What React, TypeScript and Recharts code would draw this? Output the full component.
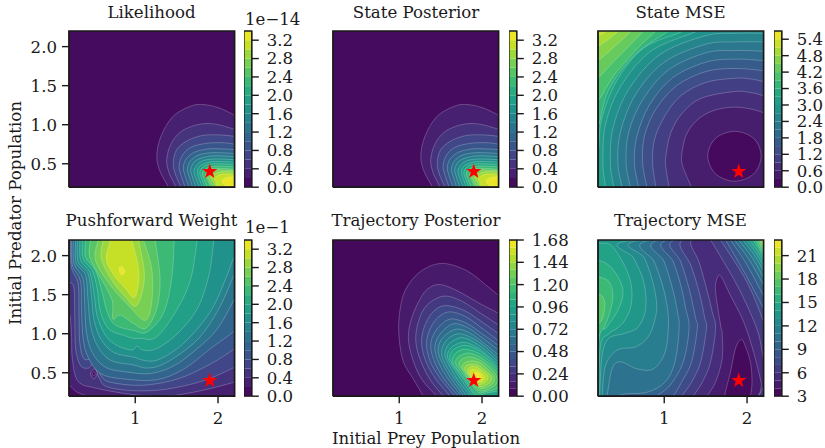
import React from "react";
import { ScatterChart, Scatter, XAxis, YAxis, ReferenceArea } from "recharts";

type Pt = [number, number];

const FONT = "'DejaVu Serif', serif";
const INK = "#1a1a1a";

const VIRIDIS = ["#440154", "#482475", "#414487", "#355f8d", "#2a788e", "#21918c", "#22a884", "#44bf70", "#7ad151", "#bddf26", "#fde725"];
function viridis(t: number): string {
  const p = Math.max(0, Math.min(0.9999, t)) * 10;
  const i = Math.floor(p);
  const f = p - i;
  const ch = (h: string, o: number) => parseInt(h.slice(o, o + 2), 16);
  const mix = (o: number) => Math.round(ch(VIRIDIS[i], o) * (1 - f) + ch(VIRIDIS[i + 1], o) * f);
  return `rgb(${mix(1)},${mix(3)},${mix(5)})`;
}

/* ---------- level lists and colour bar ticks ---------- */
const likelihoodBands = [0, 0.2, 0.4, 0.6, 0.8, 1, 1.2, 1.4, 1.6, 1.8, 2, 2.2, 2.4, 2.6, 2.8, 3, 3.2, 3.4];
const likelihoodTicks = [0, 0.4, 0.8, 1.2, 1.6, 2, 2.4, 2.8, 3.2];
const stateMseBands = [0, 0.3, 0.6, 0.9, 1.2, 1.5, 1.8, 2.1, 2.4, 2.7, 3, 3.3, 3.6, 3.9, 4.2, 4.5, 4.8, 5.1, 5.4, 5.7];
const stateMseTicks = [0, 0.6, 1.2, 1.8, 2.4, 3, 3.6, 4.2, 4.8, 5.4];
const trajPostBands = [0, 0.08, 0.16, 0.24, 0.32, 0.4, 0.48, 0.56, 0.64, 0.72, 0.8, 0.88, 0.96, 1.04, 1.12, 1.2, 1.28, 1.36, 1.44, 1.52, 1.6, 1.68];
const trajPostTicks = [0, 0.24, 0.48, 0.72, 0.96, 1.2, 1.44, 1.68];
const trajMseBands = [3, 4, 5, 6, 7, 8, 9, 10, 11, 12, 13, 14, 15, 16, 17, 18, 19, 20, 21, 22, 23];
const trajMseTicks = [3, 6, 9, 12, 15, 18, 21];

/* ---------- likelihood: region at or above each level ---------- */
const likelihoodContours: [number, Pt[]][] = [
  [0.2, [[1.42, 0.1], [1.4, 0.2], [1.3, 0.4], [1.26, 0.6], [1.31, 0.85], [1.45, 1.1], [1.65, 1.23], [1.8, 1.26], [2, 1.22], [2.2, 1.12], [2.3, 1.05], [2.3, 0.1]]],
  [0.4, [[1.5, 0.1], [1.49, 0.2], [1.41, 0.38], [1.38, 0.55], [1.43, 0.75], [1.55, 0.91], [1.75, 1], [1.95, 1.01], [2.2, 0.94], [2.3, 0.88], [2.3, 0.1]]],
  [0.6, [[1.56, 0.1], [1.55, 0.2], [1.48, 0.38], [1.46, 0.52], [1.5, 0.68], [1.62, 0.79], [1.8, 0.86], [2, 0.87], [2.2, 0.85], [2.3, 0.82], [2.3, 0.1]]],
  [0.8, [[1.61, 0.1], [1.6, 0.2], [1.55, 0.36], [1.53, 0.48], [1.57, 0.61], [1.67, 0.71], [1.85, 0.76], [2.05, 0.77], [2.2, 0.75], [2.3, 0.72], [2.3, 0.1]]],
  [1, [[1.66, 0.1], [1.65, 0.2], [1.6, 0.35], [1.58, 0.46], [1.62, 0.57], [1.72, 0.65], [1.88, 0.69], [2.05, 0.69], [2.2, 0.68], [2.3, 0.66], [2.3, 0.1]]],
  [1.2, [[1.7, 0.1], [1.69, 0.2], [1.65, 0.34], [1.63, 0.44], [1.67, 0.54], [1.76, 0.61], [1.9, 0.64], [2.05, 0.64], [2.2, 0.63], [2.3, 0.61], [2.3, 0.1]]],
  [1.4, [[1.74, 0.1], [1.73, 0.2], [1.69, 0.33], [1.67, 0.43], [1.71, 0.52], [1.79, 0.57], [1.92, 0.6], [2.05, 0.6], [2.2, 0.59], [2.3, 0.57], [2.3, 0.1]]],
  [1.6, [[1.78, 0.1], [1.77, 0.2], [1.73, 0.32], [1.71, 0.41], [1.75, 0.49], [1.82, 0.54], [1.94, 0.56], [2.05, 0.56], [2.2, 0.55], [2.3, 0.53], [2.3, 0.1]]],
  [1.8, [[1.82, 0.1], [1.81, 0.2], [1.77, 0.31], [1.75, 0.4], [1.78, 0.47], [1.85, 0.51], [1.96, 0.53], [2.2, 0.52], [2.3, 0.5], [2.3, 0.1]]],
  [2, [[1.85, 0.1], [1.84, 0.2], [1.8, 0.31], [1.78, 0.39], [1.81, 0.45], [1.88, 0.49], [1.98, 0.5], [2.2, 0.49], [2.3, 0.47], [2.3, 0.1]]],
  [2.2, [[1.88, 0.1], [1.87, 0.2], [1.83, 0.3], [1.81, 0.38], [1.84, 0.43], [1.91, 0.46], [2, 0.47], [2.2, 0.46], [2.3, 0.44], [2.3, 0.1]]],
  [2.4, [[1.92, 0.1], [1.91, 0.2], [1.87, 0.3], [1.85, 0.36], [1.88, 0.41], [1.94, 0.44], [2.03, 0.44], [2.2, 0.43], [2.3, 0.42], [2.3, 0.1]]],
  [2.6, [[1.96, 0.1], [1.94, 0.2], [1.89, 0.3], [1.87, 0.35], [1.91, 0.39], [1.97, 0.42], [2.05, 0.42], [2.2, 0.41], [2.3, 0.4], [2.3, 0.1]]],
  [2.8, [[1.99, 0.1], [1.98, 0.2], [1.93, 0.29], [1.91, 0.33], [1.95, 0.37], [2, 0.39], [2.08, 0.4], [2.2, 0.39], [2.3, 0.38], [2.3, 0.1]]],
  [3, [[2.03, 0.18], [1.97, 0.28], [1.95, 0.32], [2, 0.35], [2.06, 0.37], [2.2, 0.36], [2.3, 0.34], [2.3, 0.18]]],
  [3.2, [[2.1, 0.22], [2.05, 0.28], [2.08, 0.31], [2.15, 0.33], [2.3, 0.33], [2.3, 0.22]]],
];

/* ---------- pushforward weight: region at or above each level ---------- */
const pushforwardContours: [number, Pt[]][] = [
  [0.2, [[0.1, 2.3], [0.1, 0.36], [0.2, 0.34], [0.3, 0.25], [0.44, 0.19], [0.5, 0.1], [2.3, 0.1], [2.3, 2.3]]],
  [0.4, [[0.1, 2.3], [0.1, 1.25], [0.2, 1.27], [0.23, 1], [0.24, 0.68], [0.31, 0.39], [0.54, 0.3], [0.98, 0.22], [1.38, 0.2], [1.79, 0.27], [2.2, 0.38], [2.3, 0.42], [2.3, 2.3]]],
  [0.6, [[0.1, 2.3], [0.1, 1.65], [0.2, 1.66], [0.26, 1.58], [0.27, 1.19], [0.28, 0.81], [0.34, 0.59], [0.44, 0.56], [0.5, 0.61], [0.57, 0.42], [0.66, 0.32], [0.98, 0.27], [1.38, 0.29], [1.83, 0.4], [2.2, 0.57], [2.3, 0.63], [2.3, 2.3]]],
  [0.8, [[0.21, 2.3], [0.216, 2.2], [0.23, 1.85], [0.31, 1.64], [0.32, 1.26], [0.33, 0.89], [0.38, 0.68], [0.5, 0.66], [0.6, 0.44], [0.74, 0.37], [1.1, 0.34], [1.51, 0.42], [1.87, 0.59], [2.2, 0.81], [2.3, 0.95], [2.3, 2.3]]],
  [1, [[0.22, 2.3], [0.23, 2.2], [0.24, 1.88], [0.34, 1.67], [0.35, 1.32], [0.37, 0.94], [0.43, 0.7], [0.58, 0.49], [0.86, 0.42], [1.26, 0.41], [1.59, 0.55], [1.91, 0.81], [2.2, 1.04], [2.3, 1.2], [2.3, 2.3]]],
  [1.2, [[0.24, 2.3], [0.25, 2.2], [0.26, 1.9], [0.37, 1.7], [0.39, 1.36], [0.41, 1.02], [0.48, 0.76], [0.64, 0.57], [0.9, 0.51], [1.18, 0.49], [1.47, 0.59], [1.75, 0.81], [1.99, 1.06], [2.2, 1.45], [2.3, 1.7], [2.3, 2.3]]],
  [1.4, [[0.27, 2.3], [0.28, 2.2], [0.284, 1.91], [0.4, 1.75], [0.43, 1.43], [0.46, 1.11], [0.54, 0.85], [0.7, 0.66], [0.98, 0.6], [1.14, 0.56], [1.34, 0.61], [1.63, 0.81], [1.83, 1.02], [2.03, 1.36], [2.2, 1.77], [2.3, 2], [2.3, 2.3]]],
  [1.6, [[0.29, 2.3], [0.3, 2.2], [0.31, 1.92], [0.43, 1.77], [0.47, 1.49], [0.5, 1.19], [0.58, 0.94], [0.74, 0.76], [0.98, 0.7], [1.1, 0.66], [1.26, 0.66], [1.51, 0.81], [1.75, 1.06], [1.95, 1.36], [2.11, 1.75], [2.2, 2], [2.3, 2.2], [2.3, 2.3]]],
  [1.8, [[0.32, 2.3], [0.33, 2.2], [0.34, 1.94], [0.45, 1.79], [0.5, 1.53], [0.54, 1.23], [0.64, 0.98], [0.78, 0.85], [0.96, 0.79], [1.02, 0.84], [1.1, 0.79], [1.26, 0.81], [1.51, 1], [1.75, 1.32], [1.89, 1.75], [1.95, 2.2], [1.97, 2.3]]],
  [2, [[0.36, 2.3], [0.36, 2.2], [0.37, 1.96], [0.48, 1.81], [0.54, 1.58], [0.58, 1.28], [0.68, 1.06], [0.86, 0.98], [0.98, 0.94], [1.06, 0.94], [1.26, 0.96], [1.51, 1.32], [1.67, 1.7], [1.75, 2.2], [1.77, 2.3]]],
  [2.2, [[0.4, 2.3], [0.4, 2.2], [0.4, 1.98], [0.52, 1.81], [0.6, 1.53], [0.66, 1.28], [0.76, 1.11], [0.98, 1.04], [1.14, 1.02], [1.34, 1.26], [1.44, 1.7], [1.47, 2.2], [1.47, 2.3]]],
  [2.4, [[0.46, 2.3], [0.46, 2.2], [0.45, 1.98], [0.58, 1.72], [0.72, 1.43], [0.73, 1.19], [0.82, 1.24], [0.98, 1.13], [1.13, 1.07], [1.26, 1.32], [1.3, 1.7], [1.24, 2.2], [1.22, 2.3]]],
  [2.6, [[0.56, 2.3], [0.55, 2.2], [0.52, 1.94], [0.7, 1.62], [0.92, 1.36], [1.12, 1.17], [1.2, 1.41], [1.2, 1.83], [1.1, 2.2], [1.08, 2.3]]],
  [2.8, [[0.6, 2.3], [0.61, 2.2], [0.59, 1.96], [0.72, 1.68], [0.88, 1.47], [1, 1.35], [1.08, 1.51], [1.11, 1.79], [1.04, 2.2], [1.02, 2.3]]],
  [3, [[0.69, 2.3], [0.7, 2.2], [0.65, 1.96], [0.74, 1.75], [0.88, 1.58], [0.98, 1.46], [1.03, 1.58], [1.04, 1.83], [0.96, 2.2], [0.93, 2.3]]],
  [3.2, [[0.81, 1.85], [0.85, 1.85], [0.87, 1.79], [0.84, 1.75], [0.81, 1.79]]],
];
const pushforwardDip: [number, number, Pt[]][] = [
  [0.2, 0.4, [[0.5, 0.55], [0.54, 0.49], [0.5, 0.42], [0.46, 0.49]]],
  [0, 0.2, [[0.5, 0.51], [0.52, 0.49], [0.5, 0.46], [0.48, 0.49]]],
];

/* ---------- trajectory posterior: region at or above each level ---------- */
const trajPostContours: [number, Pt[]][] = [
  [0.08, [[1.33, 0.1], [1.29, 0.2], [1.17, 0.42], [1.05, 0.64], [1, 0.93], [1, 1.23], [1.07, 1.55], [1.25, 1.79], [1.51, 1.9], [1.81, 1.81], [2.05, 1.62], [2.2, 1.49], [2.3, 1.4], [2.3, 0.1]]],
  [0.16, [[1.5, 0.1], [1.45, 0.2], [1.27, 0.42], [1.16, 0.68], [1.11, 0.95], [1.15, 1.2], [1.24, 1.42], [1.34, 1.57], [1.49, 1.63], [1.7, 1.55], [1.95, 1.4], [2.2, 1.26], [2.3, 1.2], [2.3, 0.1]]],
  [0.24, [[1.58, 0.1], [1.53, 0.2], [1.38, 0.4], [1.26, 0.65], [1.2, 0.9], [1.23, 1.15], [1.33, 1.36], [1.53, 1.48], [1.75, 1.42], [2, 1.25], [2.2, 1.11], [2.3, 1.03], [2.3, 0.1]]],
  [0.32, [[1.65, 0.1], [1.61, 0.2], [1.44, 0.42], [1.32, 0.65], [1.27, 0.88], [1.3, 1.08], [1.4, 1.27], [1.55, 1.36], [1.78, 1.3], [2, 1.15], [2.2, 1], [2.3, 0.92], [2.3, 0.1]]],
  [0.4, [[1.71, 0.1], [1.67, 0.2], [1.5, 0.42], [1.38, 0.63], [1.33, 0.85], [1.36, 1.03], [1.45, 1.19], [1.6, 1.28], [1.8, 1.22], [2, 1.07], [2.2, 0.91], [2.3, 0.84], [2.3, 0.1]]],
  [0.48, [[1.75, 0.1], [1.71, 0.2], [1.54, 0.42], [1.43, 0.63], [1.38, 0.83], [1.41, 0.98], [1.5, 1.11], [1.63, 1.19], [1.82, 1.13], [2, 1], [2.2, 0.85], [2.3, 0.78], [2.3, 0.1]]],
  [0.56, [[1.79, 0.1], [1.75, 0.2], [1.59, 0.42], [1.48, 0.62], [1.43, 0.8], [1.46, 0.94], [1.55, 1.06], [1.67, 1.13], [1.84, 1.07], [2, 0.95], [2.2, 0.79], [2.3, 0.72], [2.3, 0.1]]],
  [0.64, [[1.82, 0.1], [1.78, 0.2], [1.63, 0.42], [1.52, 0.62], [1.47, 0.78], [1.5, 0.91], [1.58, 1], [1.7, 1.06], [1.85, 1.01], [2, 0.9], [2.2, 0.73], [2.3, 0.66], [2.3, 0.1]]],
  [0.72, [[1.85, 0.1], [1.81, 0.2], [1.67, 0.42], [1.56, 0.6], [1.51, 0.75], [1.54, 0.87], [1.62, 0.96], [1.73, 1], [1.87, 0.95], [2.02, 0.85], [2.2, 0.68], [2.3, 0.6], [2.3, 0.1]]],
  [0.8, [[1.88, 0.1], [1.85, 0.2], [1.7, 0.42], [1.6, 0.6], [1.55, 0.73], [1.58, 0.84], [1.65, 0.91], [1.76, 0.95], [1.89, 0.9], [2.03, 0.8], [2.2, 0.64], [2.3, 0.56], [2.3, 0.1]]],
  [0.88, [[1.91, 0.1], [1.88, 0.2], [1.74, 0.42], [1.63, 0.6], [1.58, 0.71], [1.61, 0.8], [1.68, 0.86], [1.78, 0.89], [1.9, 0.85], [2.03, 0.76], [2.2, 0.6], [2.3, 0.52], [2.3, 0.1]]],
  [0.96, [[1.94, 0.1], [1.91, 0.2], [1.77, 0.42], [1.66, 0.58], [1.61, 0.69], [1.64, 0.78], [1.71, 0.83], [1.8, 0.85], [1.92, 0.81], [2.05, 0.72], [2.2, 0.56], [2.3, 0.48], [2.3, 0.1]]],
  [1.04, [[1.93, 0.22], [1.79, 0.42], [1.68, 0.57], [1.64, 0.66], [1.67, 0.74], [1.74, 0.79], [1.82, 0.8], [1.94, 0.76], [2.07, 0.67], [2.2, 0.53], [2.3, 0.42], [2.3, 0.3], [2.2, 0.27], [2.05, 0.24]]],
  [1.12, [[1.95, 0.25], [1.82, 0.42], [1.72, 0.55], [1.68, 0.63], [1.71, 0.7], [1.78, 0.74], [1.85, 0.75], [1.96, 0.71], [2.08, 0.62], [2.2, 0.49], [2.24, 0.4], [2.18, 0.3], [2.05, 0.26]]],
  [1.2, [[1.97, 0.27], [1.85, 0.4], [1.76, 0.54], [1.72, 0.61], [1.75, 0.67], [1.82, 0.7], [1.88, 0.7], [1.98, 0.66], [2.08, 0.58], [2.17, 0.47], [2.18, 0.37], [2.1, 0.3]]],
  [1.28, [[1.98, 0.3], [1.87, 0.4], [1.79, 0.52], [1.76, 0.58], [1.79, 0.63], [1.85, 0.65], [1.9, 0.65], [1.99, 0.62], [2.07, 0.54], [2.14, 0.46], [2.14, 0.38], [2.07, 0.32]]],
  [1.36, [[1.98, 0.32], [1.89, 0.4], [1.82, 0.5], [1.79, 0.56], [1.82, 0.6], [1.88, 0.61], [1.95, 0.6], [2.04, 0.53], [2.11, 0.45], [2.1, 0.38], [2.04, 0.34]]],
  [1.44, [[1.96, 0.35], [1.88, 0.42], [1.83, 0.51], [1.85, 0.57], [1.92, 0.58], [2, 0.53], [2.07, 0.46], [2.05, 0.39]]],
  [1.52, [[1.95, 0.39], [1.87, 0.46], [1.86, 0.53], [1.92, 0.54], [2, 0.49], [2.03, 0.43], [2, 0.39]]],
  [1.6, [[1.95, 0.43], [1.91, 0.49], [1.95, 0.5], [1.99, 0.46], [1.98, 0.42]]],
];

/* ---------- state MSE: region at or below each level ---------- */
const stateMseContours: [number, Pt[]][] = [
  [5.1, [[0.1, 0.1], [0.1, 2.12], [0.2, 2.14], [0.3, 2.2], [0.35, 2.3], [2.35, 2.3], [2.35, 0.1]]],
  [4.8, [[0.1, 0.1], [0.1, 1.97], [0.2, 2], [0.45, 2.2], [0.52, 2.3], [2.35, 2.3], [2.35, 0.1]]],
  [4.5, [[0.1, 0.1], [0.1, 1.79], [0.2, 1.82], [0.4, 2], [0.6, 2.2], [0.66, 2.3], [2.35, 2.3], [2.35, 0.1]]],
  [4.2, [[0.1, 0.1], [0.1, 1.56], [0.2, 1.6], [0.4, 1.82], [0.75, 2.2], [0.82, 2.3], [2.35, 2.3], [2.35, 0.1]]],
  [3.9, [[0.1, 0.1], [0.1, 1.26], [0.2, 1.3], [0.4, 1.64], [0.7, 2], [0.9, 2.2], [0.98, 2.3], [2.35, 2.3], [2.35, 0.1]]],
  [3.6, [[0.1, 0.1], [0.1, 0.93], [0.2, 0.97], [0.33, 1.45], [0.65, 1.9], [1.05, 2.2], [1.12, 2.3], [2.35, 2.3], [2.35, 0.1]]],
  [3.3, [[0.1, 0.1], [0.1, 0.62], [0.2, 0.65], [0.24, 1.05], [0.42, 1.55], [0.75, 1.98], [1.23, 2.2], [1.3, 2.3], [2.35, 2.3], [2.35, 0.1]]],
  [3, [[0.29, 0.1], [0.29, 0.2], [0.26, 0.5], [0.29, 1], [0.48, 1.5], [0.85, 1.95], [1.4, 2.2], [1.5, 2.3], [2.35, 2.3], [2.35, 0.1]]],
  [2.7, [[0.39, 0.1], [0.39, 0.2], [0.35, 0.5], [0.38, 0.95], [0.57, 1.45], [0.95, 1.9], [1.5, 2.14], [1.85, 2.17], [2.2, 2.17], [2.35, 2.15], [2.35, 0.1]]],
  [2.4, [[0.49, 0.1], [0.49, 0.2], [0.44, 0.5], [0.47, 0.9], [0.65, 1.38], [1, 1.8], [1.5, 2.03], [1.85, 2.06], [2.2, 2.06], [2.35, 2.05], [2.35, 0.1]]],
  [2.1, [[0.59, 0.1], [0.59, 0.2], [0.54, 0.5], [0.57, 0.9], [0.74, 1.32], [1.05, 1.7], [1.5, 1.92], [1.85, 1.95], [2.2, 1.94], [2.35, 1.92], [2.35, 0.1]]],
  [1.8, [[0.69, 0.1], [0.69, 0.2], [0.64, 0.5], [0.67, 0.85], [0.82, 1.25], [1.1, 1.6], [1.5, 1.8], [1.85, 1.84], [2.2, 1.82], [2.35, 1.8], [2.35, 0.1]]],
  [1.5, [[0.79, 0.1], [0.79, 0.2], [0.74, 0.5], [0.76, 0.85], [0.9, 1.2], [1.15, 1.5], [1.5, 1.68], [1.85, 1.72], [2.2, 1.69], [2.35, 1.65], [2.35, 0.1]]],
  [1.2, [[0.92, 0.1], [0.9, 0.2], [0.86, 0.5], [0.88, 0.8], [1, 1.1], [1.2, 1.37], [1.5, 1.54], [1.85, 1.595], [2.05, 1.585], [2.2, 1.55], [2.35, 1.5], [2.35, 0.1]]],
  [0.9, [[1.09, 0.1], [1.06, 0.2], [1.02, 0.45], [1.02, 0.6], [1.08, 0.9], [1.22, 1.15], [1.45, 1.34], [1.85, 1.425], [2.05, 1.41], [2.2, 1.37], [2.35, 1.3], [2.35, 0.1]]],
  [0.6, [[1.38, 0.1], [1.33, 0.2], [1.23, 0.45], [1.21, 0.6], [1.27, 0.88], [1.42, 1.08], [1.62, 1.19], [1.85, 1.225], [2.05, 1.2], [2.2, 1.15], [2.35, 1.05], [2.35, 0.1]]],
  [0.3, [[2.17, 0.6], [2.08, 0.825], [1.85, 0.915], [1.62, 0.825], [1.525, 0.6], [1.62, 0.37], [1.85, 0.277], [2.08, 0.37]]],
];

/* ---------- trajectory MSE: boundaries of the region at or below each level ---------- */
const mseRightEdges: Record<number, Pt[]> = {
  6: [[1.5, 2.3], [1.56, 2.2], [1.88, 1.62], [2.12, 1.06], [2.2, 0.68], [2.28, 0.5], [2.2, 0.32], [2.14, 0.2], [2.1, 0.1]],
  7: [[1.62, 2.3], [1.68, 2.2], [2, 1.66], [2.2, 1.15], [2.33, 0.7], [2.3, 0.25], [2.18, 0.2], [2.15, 0.1]],
  8: [[1.68, 2.3], [1.74, 2.2], [1.97, 1.78], [2.2, 1.32], [2.3, 1.1], [2.35, 0.1]],
  9: [[1.74, 2.3], [1.8, 2.2], [2, 1.88], [2.2, 1.48], [2.3, 1.25], [2.35, 0.1]],
  10: [[1.8, 2.3], [1.85, 2.2], [2.03, 1.94], [2.2, 1.62], [2.3, 1.42], [2.35, 0.1]],
  11: [[1.86, 2.3], [1.9, 2.2], [2.06, 1.98], [2.2, 1.72], [2.3, 1.55], [2.35, 0.1]],
  12: [[1.92, 2.3], [1.95, 2.2], [2.08, 2.02], [2.2, 1.81], [2.3, 1.65], [2.35, 0.1]],
  13: [[1.96, 2.3], [1.99, 2.2], [2.1, 2.05], [2.2, 1.87], [2.3, 1.72], [2.35, 0.1]],
  14: [[2, 2.3], [2.03, 2.2], [2.12, 2.07], [2.2, 1.93], [2.3, 1.8], [2.35, 0.1]],
  15: [[2.04, 2.3], [2.07, 2.2], [2.14, 2.09], [2.2, 1.98], [2.3, 1.85], [2.35, 0.1]],
  16: [[2.07, 2.3], [2.1, 2.2], [2.2, 2.02], [2.3, 1.88], [2.35, 0.1]],
  17: [[2.11, 2.3], [2.13, 2.2], [2.2, 2.05], [2.3, 1.92], [2.35, 0.1]],
  18: [[2.13, 2.3], [2.15, 2.2], [2.2, 2.09], [2.3, 1.98], [2.35, 0.1]],
  19: [[2.15, 2.3], [2.17, 2.2], [2.2, 2.13], [2.3, 2.03], [2.35, 0.1]],
  20: [[2.16, 2.3], [2.18, 2.2], [2.2, 2.17], [2.3, 2.08], [2.35, 0.1]],
};
const mseLeftEdges: Record<number, Pt[]> = {
  6: [[1.28, 0.1], [1.35, 0.2], [1.46, 0.38], [1.56, 0.64], [1.62, 1.07], [1.58, 1.28], [1.52, 1.54], [1.42, 1.92], [1.32, 2.18]],
  7: [[1.14, 0.1], [1.21, 0.2], [1.33, 0.38], [1.44, 0.64], [1.51, 1.07], [1.49, 1.2], [1.42, 1.54], [1.32, 1.88], [1.2, 2.18]],
  8: [[1.04, 0.1], [1.11, 0.2], [1.21, 0.38], [1.33, 0.64], [1.4, 1.07], [1.38, 1.2], [1.3, 1.58], [1.2, 1.92], [1.09, 2.18]],
  9: [[0.84, 0.1], [0.91, 0.2], [1.07, 0.34], [1.23, 0.64], [1.3, 1.07], [1.26, 1.32], [1.2, 1.62], [1.11, 1.92], [0.99, 2.18]],
  10: [[0.42, 0.1], [0.49, 0.22], [0.79, 0.25], [1.01, 0.38], [1.13, 0.64], [1.18, 1.07], [1.16, 1.28], [1.1, 1.58], [1, 1.92], [0.88, 2.18]],
  11: [[0.3, 0.1], [0.31, 0.2], [0.37, 0.55], [0.47, 0.64], [0.67, 0.55], [0.87, 0.55], [1.01, 0.76], [1.05, 1.07], [1.04, 1.32], [0.98, 1.62], [0.88, 1.92], [0.76, 2.18]],
  12: [[0.24, 0.1], [0.25, 0.2], [0.29, 0.59], [0.43, 0.79], [0.65, 0.83], [0.8, 0.95], [0.88, 1.15], [0.91, 1.37], [0.86, 1.67], [0.76, 1.97], [0.63, 2.18]],
  13: [[0.22, 0.1], [0.22, 0.2], [0.25, 0.72], [0.33, 0.94], [0.51, 1], [0.67, 1.07], [0.76, 1.24], [0.78, 1.45], [0.74, 1.71], [0.63, 1.97], [0.51, 2.18]],
  14: [[0.21, 0.1], [0.21, 0.2], [0.23, 0.85], [0.33, 1], [0.43, 1.07], [0.51, 1.15], [0.59, 1.32], [0.61, 1.54], [0.57, 1.75], [0.47, 1.97], [0.35, 2.14], [0.21, 2.16], [0.1, 2.16], [0.1, 2.3]],
  15: [[0.205, 0.1], [0.205, 0.2], [0.215, 0.94], [0.31, 1.09], [0.43, 1.28], [0.5, 1.49], [0.47, 1.67], [0.35, 1.86], [0.21, 1.94], [0.1, 1.97], [0.1, 2.3]],
  16: [[0.1, 0.1], [0.1, 0.95], [0.21, 0.97], [0.28, 1.09], [0.35, 1.3], [0.38, 1.5], [0.33, 1.67], [0.21, 1.73], [0.1, 1.78], [0.1, 2.3]],
  17: [[0.1, 0.1], [0.1, 1.1], [0.23, 1.15], [0.28, 1.32], [0.27, 1.45], [0.21, 1.51], [0.1, 1.56], [0.1, 2.3]],
  18: [[0.1, 0.1], [0.1, 2.3]],
  19: [[0.1, 0.1], [0.1, 2.3]],
  20: [[0.1, 0.1], [0.1, 2.3]],
};
const mseLobe5: Pt[] = [[1.52, 0.2], [1.62, 0.38], [1.7, 0.68], [1.7, 1], [1.68, 1.11], [1.62, 1.54], [1.63, 1.68], [1.66, 1.75], [1.7, 1.71], [1.8, 1.49], [1.96, 1.15], [2.08, 0.76], [2.16, 0.42], [2.17, 0.32], [2.12, 0.2], [1.9, 0.1], [1.5, 0.1]];
const mseLobe4: Pt[] = [[1.73, 0.2], [1.8, 0.51], [1.86, 0.81], [1.92, 0.92], [1.96, 0.89], [2.04, 0.64], [2.06, 0.38], [2.04, 0.2], [2, 0.1], [1.75, 0.1]];
const mseLevelsDown = [20, 19, 18, 17, 16, 15, 14, 13, 12, 11, 10, 9, 8, 7, 6];

const truth = [{ x: 1.9, y: 0.4 }];
const whole: Pt[] = [[0.1, 0.1], [0.1, 2.3], [2.3, 2.3], [2.3, 0.1]];
const frameCorners = [{ x: 0.2, y: 0.2 }, { x: 0.2, y: 2.2 }, { x: 2.2, y: 2.2 }, { x: 2.2, y: 0.2 }, { x: 0.2, y: 0.2 }];

/* ---------- building layers ---------- */
type Layer = { lo: number; hi: number; pts: Pt[]; line: boolean };
function upLayers(bands: number[], contours: [number, Pt[]][]): Layer[] {
  const step = bands[1] - bands[0];
  const out: Layer[] = [{ lo: bands[0], hi: bands[1], pts: whole, line: false }];
  contours.forEach(([lv, pts]) => out.push({ lo: lv, hi: lv + step, pts, line: true }));
  return out;
}
function downLayers(baseLo: number, baseHi: number, step: number, contours: [number, Pt[]][]): Layer[] {
  const out: Layer[] = [{ lo: baseLo, hi: baseHi, pts: whole, line: false }];
  contours.forEach(([lv, pts]) => out.push({ lo: lv - step, hi: lv, pts, line: true }));
  return out;
}
const mseContours: [number, Pt[]][] = [
  ...mseLevelsDown.map((lv): [number, Pt[]] => [lv, [...mseLeftEdges[lv], ...mseRightEdges[lv]]]),
  [5, mseLobe5],
  [4, mseLobe4],
];
const pushLayers: Layer[] = [
  ...upLayers(likelihoodBands, pushforwardContours),
  ...pushforwardDip.map(([lo, hi, pts]) => ({ lo, hi, pts, line: true })),
];

function smoothClosed(p: { x: number; y: number }[]): string {
  const n = p.length;
  let d = `M${p[0].x},${p[0].y}`;
  for (let i = 0; i < n; i++) {
    const a = p[(i - 1 + n) % n], b = p[i], c = p[(i + 1) % n], e = p[(i + 2) % n];
    d += `C${b.x + (c.x - a.x) / 6},${b.y + (c.y - a.y) / 6} ${c.x - (e.x - b.x) / 6},${c.y - (e.y - b.y) / 6} ${c.x},${c.y}`;
  }
  return d + "Z";
}

const AX_W = 60;
const AX_H = 38;
const TOP = 4;
const FS = 16.6;
const tickStyle = { fontFamily: FONT, fontSize: FS, fill: INK };

function Panel(props: { left: number; top: number; w: number; h: number; bands: number[]; layers: Layer[]; xLabels: boolean; yLabels: boolean }) {
  const { left, top, w, h, bands, layers, xLabels, yLabels } = props;
  const lo = bands[0], hi = bands[bands.length - 1];
  const tickLine = { stroke: INK, strokeWidth: 1.4 };
  const size = { width: AX_W + w + 4, height: TOP + h + AX_H };
  const abs = { position: "absolute" as const, left: 0, top: 0 };
  return (
    <div style={{ position: "absolute", left: left - AX_W, top: top - TOP }}>
      <div style={abs}>
        <ScatterChart {...size} margin={{ top: TOP, right: 4, bottom: AX_H, left: AX_W }}>
          <XAxis hide type="number" dataKey="x" domain={[0.2, 2.2]} allowDataOverflow />
          <YAxis hide type="number" dataKey="y" domain={[0.2, 2.2]} allowDataOverflow />
          {layers.map((l, i) => (
            <Scatter
              key={i}
              data={l.pts.map(([x, y]) => ({ x, y }))}
              isAnimationActive={false}
              shape={() => <g />}
              line={(p: { points: { x: number; y: number }[] }) => (
                <path
                  d={smoothClosed(p.points)}
                  fill={viridis(((l.lo + l.hi) / 2 - lo) / (hi - lo))}
                  stroke={l.line ? "#fff" : "none"}
                  strokeOpacity={0.38}
                  strokeWidth={0.6}
                />
              )}
            />
          ))}
        </ScatterChart>
      </div>
      <div style={abs}>
        <ScatterChart {...size} margin={{ top: TOP, right: 4, bottom: 0, left: 0 }}>
          <XAxis type="number" dataKey="x" domain={[0.2, 2.2]} ticks={[1, 2]} tickSize={7} tickMargin={9} height={AX_H} stroke={INK} tickLine={tickLine} tick={xLabels ? tickStyle : false} tickFormatter={(v: number) => String(v)} interval={0} />
          <YAxis type="number" dataKey="y" domain={[0.2, 2.2]} ticks={[0.5, 1, 1.5, 2]} tickSize={7} tickMargin={5} width={AX_W} stroke={INK} tickLine={tickLine} tick={yLabels ? tickStyle : false} tickFormatter={(v: number) => v.toFixed(1)} interval={0} />
          <Scatter data={frameCorners} isAnimationActive={false} shape={() => <g />} line={{ stroke: INK, strokeWidth: 1.7 }} />
          <Scatter
            data={truth}
            isAnimationActive={false}
            shape={(p: { cx: number; cy: number }) => {
              const pts: string[] = [];
              for (let i = 0; i < 10; i++) {
                const r = i % 2 ? 3.1 : 8;
                const a = -Math.PI / 2 + (i * Math.PI) / 5;
                pts.push(`${p.cx + r * Math.cos(a)},${p.cy + r * Math.sin(a)}`);
              }
              return <polygon points={pts.join(" ")} fill="#ff0000" />;
            }}
          />
        </ScatterChart>
      </div>
    </div>
  );
}

const BAR_PAD = 14;
function ColorBar(props: { left: number; top: number; h: number; bands: number[]; ticks: number[]; digits: number }) {
  const { left, top, h, bands, ticks, digits } = props;
  const lo = bands[0], hi = bands[bands.length - 1];
  const W = 7.8;
  const RW = 60;
  const frame = [{ x: 0, y: lo }, { x: 0, y: hi }, { x: 1, y: hi }, { x: 1, y: lo }, { x: 0, y: lo }];
  return (
    <div style={{ position: "absolute", left: left, top: top - BAR_PAD }}>
      <ScatterChart width={W + RW} height={BAR_PAD * 2 + h} margin={{ top: BAR_PAD, right: 0, bottom: 0, left: 0 }}>
        <XAxis type="number" dataKey="x" domain={[0, 1]} height={BAR_PAD} tick={false} tickLine={false} axisLine={false} />
        <YAxis
          dataKey="y"
          type="number"
          orientation="right"
          domain={[lo, hi]}
          ticks={ticks}
          interval={0}
          width={RW}
          tickSize={7}
          tickMargin={8}
          stroke={INK}
          tickLine={{ stroke: INK, strokeWidth: 1.4 }}
          tick={tickStyle}
          tickFormatter={(v: number) => (digits === 0 ? String(v) : v.toFixed(digits))}
        />
        {bands.slice(0, -1).map((b, i) => (
          <ReferenceArea key={i} x1={0} x2={1} y1={b} y2={bands[i + 1]} fill={viridis(((b + bands[i + 1]) / 2 - lo) / (hi - lo))} fillOpacity={1} stroke="none" />
        ))}
        <Scatter data={frame} isAnimationActive={false} shape={() => <g />} line={{ stroke: INK, strokeWidth: 1.3 }} />
      </ScatterChart>
    </div>
  );
}

function Label(props: { x: number; y: number; text: string; rotate?: boolean; anchor?: string }) {
  const { x, y, text, rotate, anchor } = props;
  const tr = anchor === "start" ? "translate(0,-50%)" : rotate ? "translate(-50%,-50%) rotate(-90deg)" : "translate(-50%,-50%)";
  return (
    <div style={{ position: "absolute", left: x, top: y, transform: tr, fontFamily: FONT, fontSize: FS, color: INK, whiteSpace: "nowrap", lineHeight: 1 }}>
      {text}
    </div>
  );
}

const COL_X = [69, 333, 597.8];
const BAR_X = [244.3, 509, 773.6];
const PANEL_W = 165.6;
const ROW_Y = [31.2, 239.6];
const PANEL_H = 156.2;

const topLayers = upLayers(likelihoodBands, likelihoodContours);
const mseTop = downLayers(5.1, 5.4, 0.3, stateMseContours);
const postLayers = upLayers(trajPostBands, trajPostContours);
const mseBottom = downLayers(20, 21, 1, mseContours);

export default function App() {
  return (
    <div style={{ position: "fixed", left: 0, top: 0, width: 825, height: 448, background: "#fff", overflow: "hidden" }}>
      <Panel left={COL_X[0]} top={ROW_Y[0]} w={PANEL_W} h={PANEL_H} bands={likelihoodBands} layers={topLayers} xLabels={false} yLabels />
      <Panel left={COL_X[1]} top={ROW_Y[0]} w={PANEL_W} h={PANEL_H} bands={likelihoodBands} layers={topLayers} xLabels={false} yLabels={false} />
      <Panel left={COL_X[2]} top={ROW_Y[0]} w={PANEL_W} h={PANEL_H} bands={stateMseBands} layers={mseTop} xLabels={false} yLabels={false} />
      <Panel left={COL_X[0]} top={ROW_Y[1]} w={PANEL_W} h={PANEL_H} bands={likelihoodBands} layers={pushLayers} xLabels yLabels />
      <Panel left={COL_X[1]} top={ROW_Y[1]} w={PANEL_W} h={PANEL_H} bands={trajPostBands} layers={postLayers} xLabels yLabels={false} />
      <Panel left={COL_X[2]} top={ROW_Y[1]} w={PANEL_W} h={PANEL_H} bands={trajMseBands} layers={mseBottom} xLabels yLabels={false} />

      <ColorBar left={BAR_X[0]} top={ROW_Y[0]} h={PANEL_H} bands={likelihoodBands} ticks={likelihoodTicks} digits={1} />
      <ColorBar left={BAR_X[1]} top={ROW_Y[0]} h={PANEL_H} bands={likelihoodBands} ticks={likelihoodTicks} digits={1} />
      <ColorBar left={BAR_X[2]} top={ROW_Y[0]} h={PANEL_H} bands={stateMseBands} ticks={stateMseTicks} digits={1} />
      <ColorBar left={BAR_X[0]} top={ROW_Y[1]} h={PANEL_H} bands={likelihoodBands} ticks={likelihoodTicks} digits={1} />
      <ColorBar left={BAR_X[1]} top={ROW_Y[1]} h={PANEL_H} bands={trajPostBands} ticks={trajPostTicks} digits={2} />
      <ColorBar left={BAR_X[2]} top={ROW_Y[1]} h={PANEL_H} bands={trajMseBands} ticks={trajMseTicks} digits={0} />

      <Label x={151.5} y={13} text="Likelihood" />
      <Label x={416} y={13} text="State Posterior" />
      <Label x={680.5} y={13} text="State MSE" />
      <Label x={151.5} y={221} text="Pushforward Weight" />
      <Label x={416} y={221} text="Trajectory Posterior" />
      <Label x={680.5} y={221} text="Trajectory MSE" />
      <Label x={245} y={20} text="1e−14" anchor="start" />
      <Label x={245} y={228} text="1e−1" anchor="start" />
      <Label x={426} y={439} text="Initial Prey Population" />
      <Label x={16} y={213} text="Initial Predator Population" rotate />
    </div>
  );
}
